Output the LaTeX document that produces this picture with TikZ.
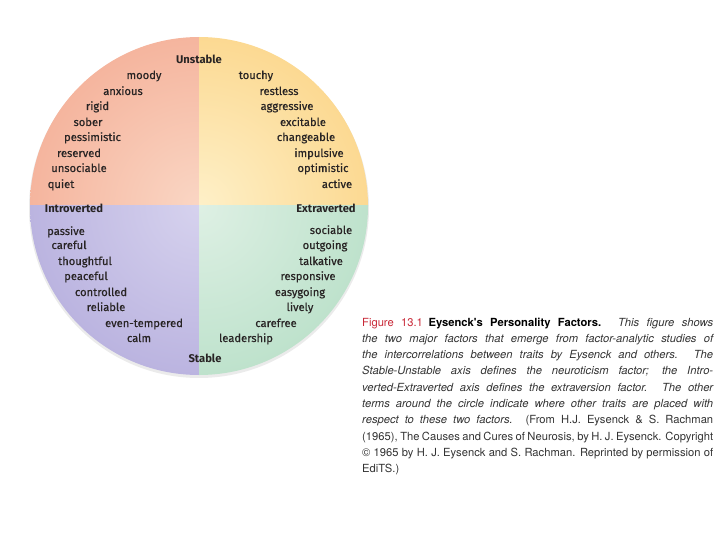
\documentclass[tikz,border=0pt]{standalone}
\usepackage{fontspec}
\setmainfont{Fira Sans}
\newfontfamily\traitfont{Fira Sans}[FakeBold=0.5]
\newfontfamily\capfont{TeX Gyre Heros}
\usepackage{xcolor}
\usetikzlibrary{positioning}

% quadrant colours
\definecolor{unstableL}{RGB}{250,214,196}
\definecolor{unstableR}{RGB}{240,148,120}
\definecolor{excitL}{RGB}{254,240,200}
\definecolor{excitR}{RGB}{249,194,92}
\definecolor{calmL}{RGB}{214,210,238}
\definecolor{calmR}{RGB}{160,150,210}
\definecolor{sociL}{RGB}{222,240,228}
\definecolor{sociR}{RGB}{158,212,180}
\definecolor{figred}{RGB}{200,40,55}
\definecolor{traitgray}{RGB}{40,36,36}

\pgfdeclareradialshading{shUnst}{\pgfpoint{0bp}{0bp}}{color(0bp)=(unstableL); color(50bp)=(unstableR)}
\pgfdeclareradialshading{shExci}{\pgfpoint{0bp}{0bp}}{color(0bp)=(excitL); color(50bp)=(excitR)}
\pgfdeclareradialshading{shCalm}{\pgfpoint{0bp}{0bp}}{color(0bp)=(calmL); color(50bp)=(calmR)}
\pgfdeclareradialshading{shSoci}{\pgfpoint{0bp}{0bp}}{color(0bp)=(sociL); color(50bp)=(sociR)}

% one justified caption line
\newcommand{\capline}[1]{\makebox[351pt][s]{#1}\\}

\tikzset{
  trait/.style={anchor=base, inner sep=0pt, text=traitgray, font=\traitfont\fontsize{11.2}{12}\selectfont},
  axis/.style={trait, font=\fontsize{11.2}{12}\selectfont\bfseries}
}

\begin{document}
\begin{tikzpicture}[x=1pt, y=-1pt]
        \useasboundingbox (0,0) rectangle (720,540);

        % faint shadow under the circle
        \fill[black!8] (199,208) circle (170);

        % Unstable / Introverted quadrant
        \begin{scope}
          \clip (199,206) rectangle (20,30);
          \shade[shading=shUnst] (199,206) circle (169);
        \end{scope}

        % Unstable / Extraverted quadrant
        \begin{scope}
          \clip (199,206) rectangle (380,30);
          \shade[shading=shExci] (199,206) circle (169);
        \end{scope}

        % Stable / Introverted quadrant
        \begin{scope}
          \clip (199,206) rectangle (20,385);
          \shade[shading=shCalm] (199,206) circle (169);
        \end{scope}

        % Stable / Extraverted quadrant
        \begin{scope}
          \clip (199,206) rectangle (380,385);
          \shade[shading=shSoci] (199,206) circle (169);
        \end{scope}

        % axis labels
        \node[axis] (unstable) at (199,64) {Unstable};
        \node[axis] (stable) at (205,362) {Stable};
        \node[axis] (intro) at (74,213) {Introverted};
        \node[axis] (extra) at (326,213) {Extraverted};

        % upper left traits
        \node[trait] (moody) at (144,79) {moody};
        \node[trait] (anxious) at (123,95) {anxious};
        \node[trait] (rigid) at (97.5,110) {rigid};
        \node[trait] (sober) at (88,126) {sober};
        \node[trait] (pessimistic) at (92.5,141) {pessimistic};
        \node[trait] (reserved) at (79,157) {reserved};
        \node[trait] (unsociable) at (79,172) {unsociable};
        \node[trait] (quiet) at (61,188) {quiet};

        % upper right traits
        \node[trait] (touchy) at (256,79) {touchy};
        \node[trait] (restless) at (279,95) {restless};
        \node[trait] (aggressive) at (287,110) {aggressive};
        \node[trait] (excitable) at (303,126) {excitable};
        \node[trait] (changeable) at (306,141) {changeable};
        \node[trait] (impulsive) at (319,157) {impulsive};
        \node[trait] (optimistic) at (323,172) {optimistic};
        \node[trait] (active) at (337,188) {active};

        % lower left traits
        \node[trait] (passive) at (66,235) {passive};
        \node[trait] (careful) at (69,249) {careful};
        \node[trait] (thoughtful) at (85,265) {thoughtful};
        \node[trait] (peaceful) at (86,280) {peaceful};
        \node[trait] (controlled) at (101,296) {controlled};
        \node[trait] (reliable) at (106,311) {reliable};
        \node[trait] (eventemp) at (144,327) {even-tempered};
        \node[trait] (calm) at (139,342) {calm};

        % lower right traits
        \node[trait] (sociable) at (331,234) {sociable};
        \node[trait] (outgoing) at (325,249) {outgoing};
        \node[trait] (talkative) at (321,265) {talkative};
        \node[trait] (responsive) at (308,280) {responsive};
        \node[trait] (easygoing) at (300,296) {easygoing};
        \node[trait] (lively) at (300,311) {lively};
        \node[trait] (carefree) at (276,327) {carefree};
        \node[trait] (leadership) at (246,342) {leadership};

        % caption
        \node[anchor=north west, inner sep=0pt, align=left,
              font=\capfont\fontsize{11.2}{16.3}\selectfont, text=black!80] (caption) at (362,317.5)
          {\capline{\textcolor{figred}{Figure 13.1}\hspace{0.5em}\textcolor{black}{\bfseries Eysenck's Personality Factors.} \textit{This figure shows}}
           \capline{\itshape the two major factors that emerge from factor-analytic studies of}
           \capline{\itshape the intercorrelations between traits by Eysenck and others. The}
           \capline{\itshape Stable-Unstable axis defines the neuroticism factor; the Intro-}
           \capline{\itshape verted-Extraverted axis defines the extraversion factor. The other}
           \capline{\itshape terms around the circle indicate where other traits are placed with}
           \capline{\textit{respect to these two factors.} (From H.J. Eysenck \& S. Rachman}
           \capline{(1965), The Causes and Cures of Neurosis, by H. J. Eysenck. Copyright}
           \capline{\textcopyright{} 1965 by H. J. Eysenck and S. Rachman. Reprinted by permission of}
           EdiTS.)};
      \end{tikzpicture}
\end{document}
